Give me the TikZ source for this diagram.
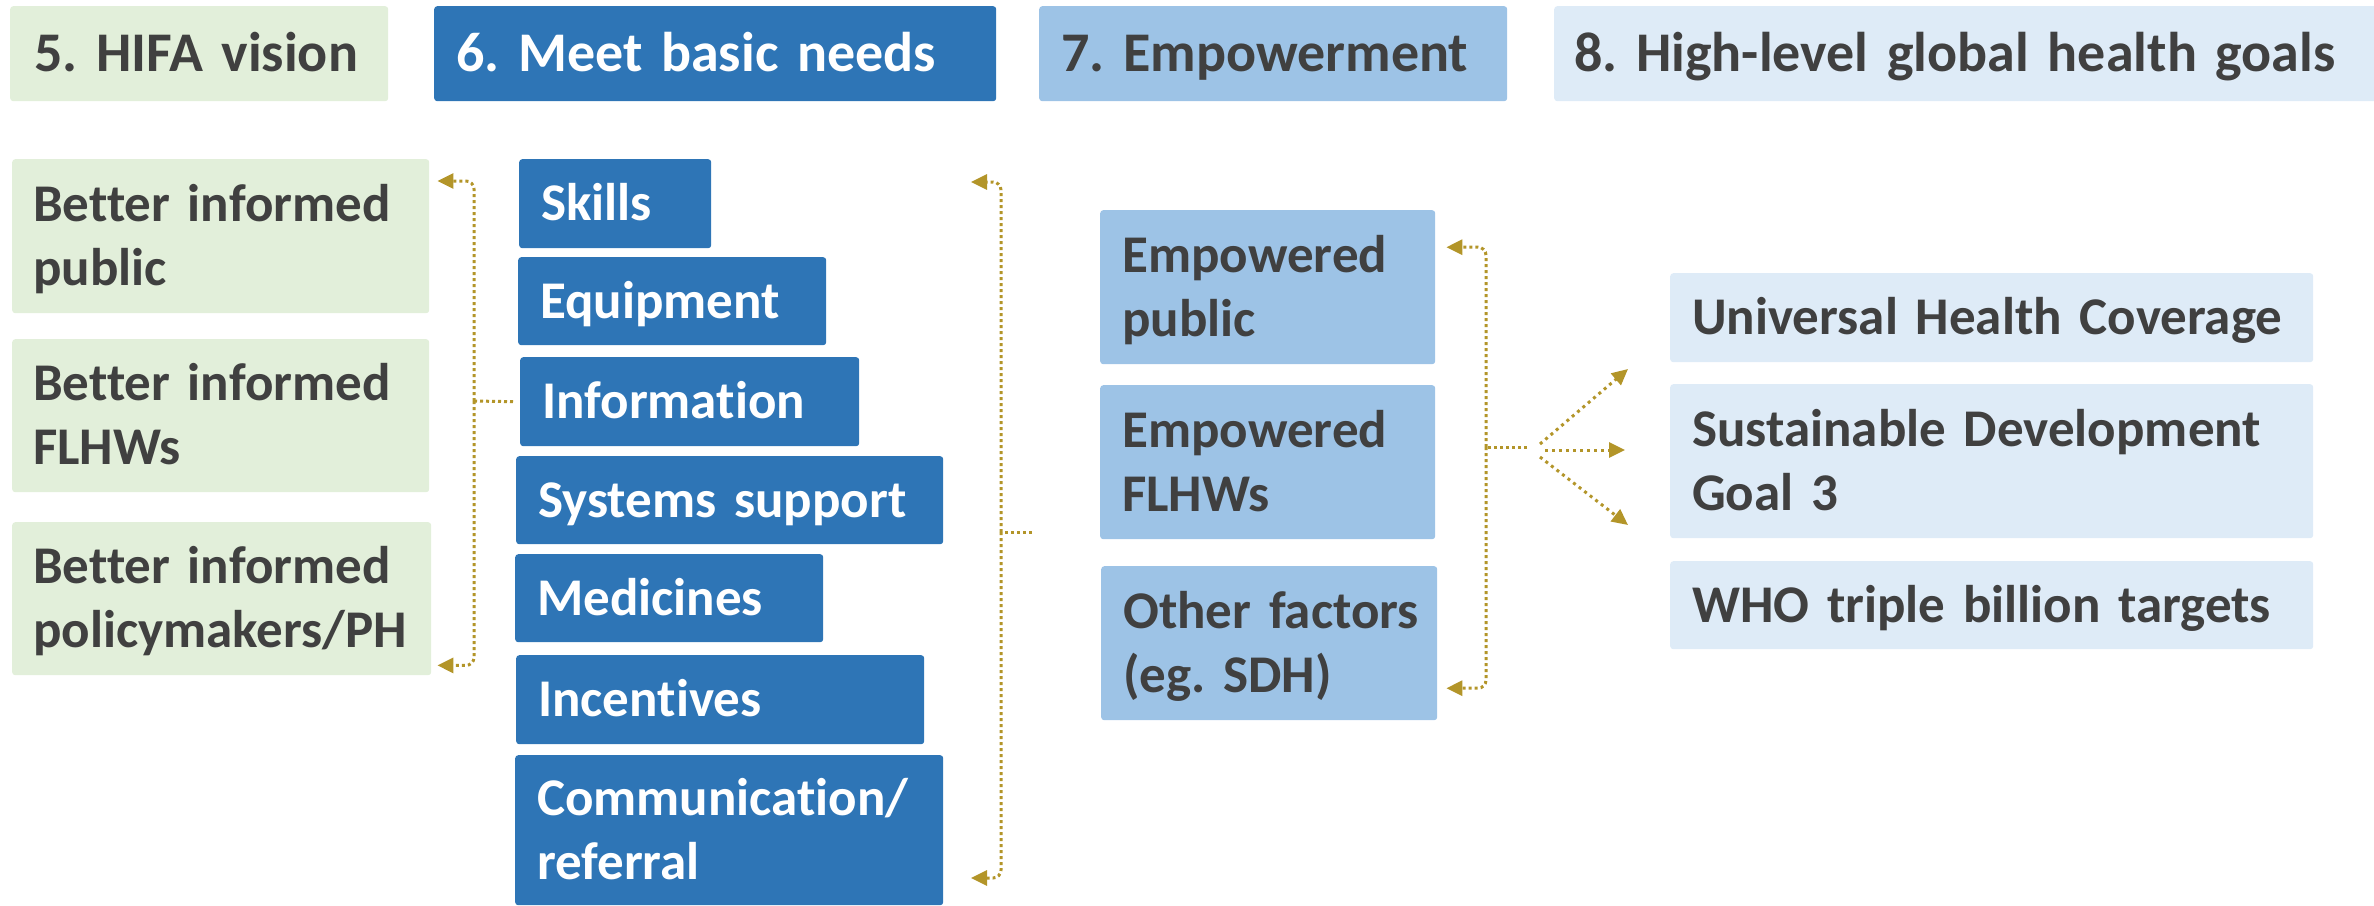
\documentclass[tikz,border=0pt]{standalone}
\usepackage{fontspec}
\setmainfont{Carlito}[Ligatures=NoCommon]
\usetikzlibrary{arrows.meta,calc}
\definecolor{grn}{HTML}{E2EFDA}
\definecolor{dblue}{HTML}{2E75B6}
\definecolor{mblue}{HTML}{9DC3E6}
\definecolor{lblue}{HTML}{DEEBF7}
\definecolor{txt}{HTML}{404040}
\definecolor{gold}{HTML}{B39529}
\frenchspacing
\newcommand\capstrut{\rule[-0.256em]{0pt}{1.156em}}
\tikzset{
  boxbase/.style={rectangle, rounded corners=3pt, anchor=north west, inner ysep=0pt,
    align=left, execute at begin node=\capstrut, execute at end node=\capstrut},
  bodyfont/.style={font=\fontsize{53}{64}\selectfont\bfseries},
  headfont/.style={font=\fontsize{56}{66}\selectfont\bfseries},
  fgreen/.style={fill=grn, text=txt},
  fdark/.style={fill=dblue, text=white},
  fmid/.style={fill=mblue, text=txt},
  flight/.style={fill=lblue, text=txt},
  conn/.style={draw=gold, line width=3pt, dash pattern=on 3pt off 3pt, rounded corners=8pt},
  arr/.style={-{Triangle[length=16pt,width=15pt]}},
}
% name, style, x1, y1, x2, y2, pad, text
\newcommand\mkbox[8]{%
  \pgfmathsetmacro\bw{#5-#3}%
  \pgfmathsetmacro\bh{#6-#4}%
  \pgfmathsetmacro\tw{#5-#3-2*#7}%
  \node[boxbase,#2,inner xsep=#7pt,minimum width=\bw pt,minimum height=\bh pt,text width=\tw pt] (#1) at (#3,#4) {#8};%
}
\begin{document}
\begin{tikzpicture}[x=1pt,y=-1pt]
\useasboundingbox (0,0) rectangle (2374,905);
% headers
\mkbox{h5}{fgreen,headfont}{10}{6}{388}{101}{24}{\mbox{5. HIFA vision}}
\mkbox{h6}{fdark,headfont}{434}{6}{996}{101}{22}{\mbox{6. Meet basic needs}}
\mkbox{h7}{fmid,headfont}{1039}{6}{1507}{101}{22}{\mbox{7. Empowerment}}
\mkbox{h8}{flight,headfont}{1554}{6}{2390}{101}{20}{\mbox{8. High-level global health goals}}
% column 5
\mkbox{g1}{fgreen,bodyfont}{12}{159}{429}{313}{21}{\mbox{Better informed}\\public}
\mkbox{g2}{fgreen,bodyfont}{12}{339}{429}{492}{21}{\mbox{Better informed}\\FLHWs}
\mkbox{g3}{fgreen,bodyfont}{12}{522}{431}{675}{21}{\mbox{Better informed}\\policymakers/PH}
% column 6
\mkbox{s1}{fdark,bodyfont}{519}{159}{711}{248}{22}{Skills}
\mkbox{s2}{fdark,bodyfont}{518}{257}{826}{345}{22}{Equipment}
\mkbox{s3}{fdark,bodyfont}{520}{357}{859}{446}{22}{Information}
\mkbox{s4}{fdark,bodyfont}{516}{456}{943}{544}{22}{\mbox{Systems support}}
\mkbox{s5}{fdark,bodyfont}{515}{554}{823}{642}{22}{Medicines}
\mkbox{s6}{fdark,bodyfont}{516}{655}{924}{744}{22}{Incentives}
\mkbox{s7}{fdark,bodyfont}{515}{755}{943}{905}{22}{Communication/\\referral}
% column 7
\mkbox{e1}{fmid,bodyfont}{1100}{210}{1435}{364}{22}{Empowered\\public}
\mkbox{e2}{fmid,bodyfont}{1100}{385}{1435}{539}{22}{Empowered\\FLHWs}
\mkbox{e3}{fmid,bodyfont}{1101}{566}{1437}{720}{22}{\mbox{Other factors}\\(eg. SDH)}
% column 8
\mkbox{u1}{flight,bodyfont}{1670}{273}{2313}{362}{22}{\mbox{Universal Health Coverage}}
\mkbox{u2}{flight,bodyfont}{1670}{384}{2313}{538}{22}{\mbox{Sustainable Development}\\Goal 3}
\mkbox{u3}{flight,bodyfont}{1670}{561}{2313}{649}{22}{\mbox{WHO triple billion targets}}
% bracket A
\coordinate (aj) at (474,401);
\coordinate (as) at ($(s3.west)+(-7,0)$);
\coordinate (at) at ($(g1.north east)+(8,22)$);
\coordinate (ab) at ($(g3.south east)+(6,-10)$);
\draw[conn] (as) -- (aj);
\draw[conn,arr] (aj) |- (at);
\draw[conn,arr] (aj) |- (ab);
% bracket B
\coordinate (bj) at (1001,532);
\coordinate (bs) at (1032,532);
\coordinate (bt) at (971,182);
\coordinate (bb) at (971,878);
\draw[conn] (bs) -- (bj);
\draw[conn,arr] (bj) |- (bt);
\draw[conn,arr] (bj) |- (bb);
% bracket C
\coordinate (cj) at (1486,447);
\coordinate (cs) at (1527,447);
\coordinate (ct) at ($(e1.east)+(11,-40)$);
\coordinate (cb) at ($(e3.east)+(9,45)$);
\draw[conn] (cs) -- (cj);
\draw[conn,arr] (cj) |- (ct);
\draw[conn,arr] (cj) |- (cb);
% fan
\coordinate (f1s) at (1540,444);
\coordinate (f2s) at (1545,450);
\coordinate (f3s) at (1540,457);
\coordinate (f1e) at (1628,369);
\coordinate (f2e) at (1625,450);
\coordinate (f3e) at (1628,525);
\draw[conn,arr,dash pattern=on 3pt off 4pt] (f1s) -- (f1e);
\draw[conn,arr,dash pattern=on 3pt off 4pt] (f2s) -- (f2e);
\draw[conn,arr,dash pattern=on 3pt off 4pt] (f3s) -- (f3e);
\end{tikzpicture}
\end{document}
